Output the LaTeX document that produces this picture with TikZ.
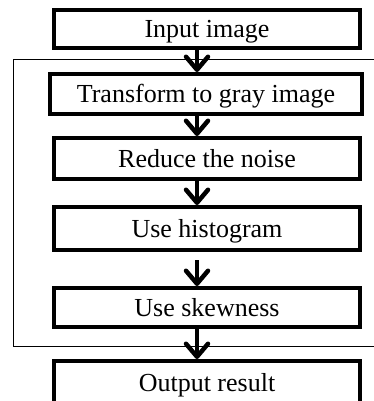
\documentclass[tikz,border=0pt]{standalone}
\usepackage{fontspec}
\setmainfont{Liberation Serif}
\usetikzlibrary{arrows.meta}
\begin{document}
\begin{tikzpicture}[x=1pt,y=-1pt,
  stepbox/.style={draw=black, line width=4pt, fill=white, minimum width=306pt,
    inner sep=0pt, font=\fontsize{26}{30}\selectfont, text height=20pt, text depth=3pt},
  flow/.style={line width=4.5pt, -{Straight Barb[length=13pt,width=22pt,round]}},
  frame/.style={draw=black, line width=1pt}]
\clip (0,0) rectangle (374,401);
\fill[white] (0,0) rectangle (374,401);
\draw[frame] (390,60) -- (13,60) -- (13,346) -- (390,346);
\node[stepbox, minimum height=38pt] (in) at (207,29) {Input image};
\node[stepbox, minimum width=312pt, minimum height=40pt] (gray) at (206,94) {Transform to gray image};
\node[stepbox, minimum height=41pt] (noise) at (207,158.5) {Reduce the noise};
\node[stepbox, minimum height=43pt] (hist) at (207,228.5) {Use histogram};
\node[stepbox, minimum height=39pt] (skew) at (207,307.5) {Use skewness};
\node[stepbox, minimum height=44pt] (out) at (207,383) {Output result};
\coordinate (ax) at (197,0);
\draw[flow] (in.south -| ax) -- (gray.north -| ax);
\draw[flow] (gray.south -| ax) -- (noise.north -| ax);
\draw[flow] (noise.south -| ax) -- (hist.north -| ax);
\draw[flow, shorten <=8pt] (hist.south -| ax) -- (skew.north -| ax);
\draw[flow] (skew.south -| ax) -- (out.north -| ax);
\end{tikzpicture}
\end{document}
